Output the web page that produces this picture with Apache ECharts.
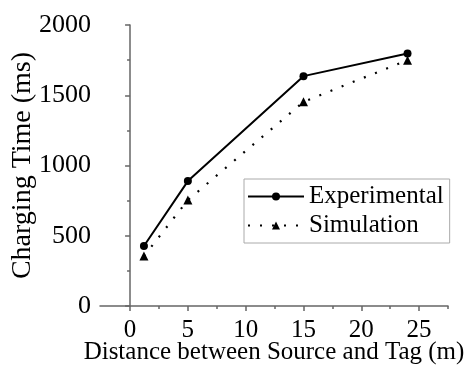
<!DOCTYPE html>
<html><head><meta charset="utf-8">
<script src="https://cdn.jsdelivr.net/npm/echarts@6/dist/echarts.min.js"></script>
<style>html,body{margin:0;padding:0;background:#fff}#c{width:467px;height:370px}</style>
</head><body><div id="c"></div>
<script>
var seriesNames = ['Experimental', 'Simulation'];
var expX = [1.2, 5, 15, 24];
var expY = [427, 889, 1636, 1797];
var simX = [1.2, 5, 15, 24];
var simY = [355, 754, 1453, 1750];
var xMajorTicks = [0, 5, 10, 15, 20, 25];
var xMinorTicks = [2.5, 7.5, 12.5, 17.5, 22.5, 27.5];
var xTitle = 'Distance between Source and Tag (m)';
var yTitle = 'Charging Time (ms)';

var FONT = 'Liberation Serif';
var axisColor = '#666';
var chart = echarts.init(document.getElementById('c'));
function pairs(xs, ys){ return xs.map(function(x,i){return [x, ys[i]];}); }
function plain(v){ return '{t|' + String(v) + '}'; }
chart.setOption({
  animation: false,
  backgroundColor: '#fff',
  textStyle: {fontFamily: FONT, color: '#000'},
  grid: {left: 100, right: 19, top: 25, bottom: 64, outerBoundsMode: 'none', containLabel: false},
  legend: {
    data: seriesNames,
    orient: 'vertical',
    left: 244, top: 179,
    padding: [5, 6, 5, 3],
    borderColor: '#aaa', borderWidth: 1,
    itemWidth: 56, itemHeight: 10, itemGap: 4,
    textStyle: {fontFamily: FONT, fontSize: 25, color: '#000'}
  },
  xAxis: [{
    type: 'value', min: -2.6, max: 27.5,
    axisLine: {show: true, onZero: false, lineStyle: {color: axisColor, width: 1.5}},
    axisTick: {show: true, length: 5, customValues: xMajorTicks, lineStyle: {color: axisColor, width: 1.5}},
    axisLabel: {customValues: xMajorTicks, formatter: plain, fontFamily: FONT, fontSize: 25, color: '#000', margin: 12,
      rich: {t: {fontFamily: FONT, fontSize: 25, color: '#000'}}},
    splitLine: {show: false},
    name: xTitle, nameLocation: 'middle', nameGap: 34, nameMoveOverlap: false,
    nameTextStyle: {fontFamily: FONT, fontSize: 25, color: '#000'}
  }, {
    type: 'value', min: -2.6, max: 27.5, position: 'bottom',
    axisLine: {show: false},
    axisTick: {show: true, length: 3, customValues: xMinorTicks, lineStyle: {color: axisColor, width: 1.5}},
    axisLabel: {show: false},
    splitLine: {show: false}
  }],
  yAxis: {
    type: 'value', min: 0, max: 2000, interval: 500,
    axisLine: {show: true, lineStyle: {color: axisColor, width: 1.5}},
    axisTick: {show: true, length: 5, lineStyle: {color: axisColor, width: 1.5}},
    minorTick: {show: true, splitNumber: 2, length: 3, lineStyle: {color: axisColor, width: 1.5}},
    axisLabel: {formatter: plain, fontFamily: FONT, fontSize: 26, color: '#000', margin: 9,
      rich: {t: {fontFamily: FONT, fontSize: 26, color: '#000'}}},
    splitLine: {show: false},
    name: yTitle, nameLocation: 'middle', nameGap: 63, nameMoveOverlap: false,
    nameTextStyle: {fontFamily: FONT, fontSize: 28, color: '#000'}
  },
  series: [{
    name: seriesNames[0], type: 'line', data: pairs(expX, expY),
    symbol: 'circle', symbolSize: 8,
    itemStyle: {color: '#000'},
    lineStyle: {color: '#000', width: 2}
  }, {
    name: seriesNames[1], type: 'line', data: pairs(simX, simY),
    symbol: 'triangle', symbolSize: 9,
    itemStyle: {color: '#000'},
    lineStyle: {color: '#000', width: 2.2, type: [2, 10]}
  }]
});
</script></body></html>
